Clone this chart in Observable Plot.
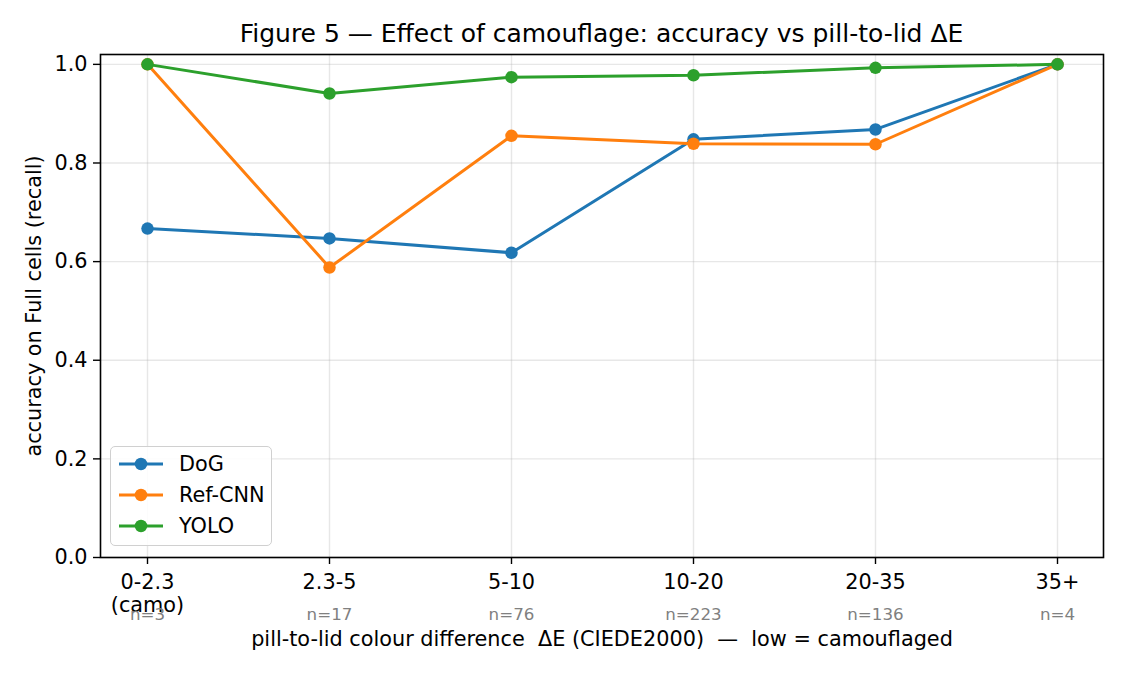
<!DOCTYPE html>
<html>
<head>
<meta charset="utf-8">
<script src="https://cdn.jsdelivr.net/npm/d3@7"></script>
<script src="https://cdn.jsdelivr.net/npm/@observablehq/plot@0.6"></script>
<style>
  body { margin: 0; background: #fff; font-family: "DejaVu Sans", sans-serif; }
  #wrap { position: relative; width: 1125px; height: 675px; overflow: hidden; }
  #title { height: 50px; box-sizing: border-box; padding: 19px 22px 0 100px; font-size: 25px; line-height: 30px; text-align: center; color: #000; white-space: nowrap; }
  #legend { position: absolute; left: 110px; top: 446px; width: 162px; height: 100px; box-sizing: border-box;
    border: 1px solid #d0d0d0; border-radius: 5px; background: rgba(255,255,255,0.85); }
  .lg-row { position: absolute; left: 0; height: 20px; display: flex; align-items: center; font-size: 20.8px; color: #000; }
  .lg-row svg { margin-left: 8px; margin-right: 16px; }
</style>
</head>
<body>
<div id="wrap">
  <div id="title">Figure 5 — Effect of camouflage: accuracy vs pill-to-lid ΔE</div>
  <div id="chart"></div>
  <div id="legend"></div>
</div>
<script>
// ---- data ----
const bins = ["0-2.3", "2.3-5", "5-10", "10-20", "20-35", "35+"];
const tickLabels = ["0-2.3\n(camo)", "2.3-5", "5-10", "10-20", "20-35", "35+"];
const nCounts = [3, 17, 76, 223, 136, 4];
const seriesNames = ["DoG", "Ref-CNN", "YOLO"];
const dogAcc = [0.667, 0.647, 0.618, 0.848, 0.868, 1.0];
const refCnnAcc = [1.0, 0.588, 0.855, 0.839, 0.838, 1.0];
const yoloAcc = [1.0, 0.941, 0.974, 0.978, 0.993, 1.0];
const seriesColors = ["#1f77b4", "#ff7f0e", "#2ca02c"];
const yTicks = [0, 0.2, 0.4, 0.6, 0.8, 1.0];
const xTitle = "pill-to-lid colour difference  ΔE (CIEDE2000)  —  low = camouflaged";
const yTitle = "accuracy on Full cells (recall)";

const seriesValues = [dogAcc, refCnnAcc, yoloAcc];
const series = seriesNames.map((name, i) => ({
  name, color: seriesColors[i],
  rows: bins.map((b, j) => ({bin: b, value: seriesValues[i][j]}))
}));

const seriesMarks = series.flatMap(s => [
  Plot.line(s.rows, {x: "bin", y: "value", stroke: s.color, strokeWidth: 3}),
  Plot.dot(s.rows, {x: "bin", y: "value", fill: s.color, r: 6.25, stroke: "none"})
]);

const chart = Plot.plot({
  width: 1125,
  height: 625,
  marginTop: 4,
  marginBottom: 118,
  marginLeft: 100,
  marginRight: 22,
  style: {fontFamily: "DejaVu Sans, sans-serif", fontSize: "20.8px", color: "#000", background: "#fff", overflow: "visible"},
  x: {type: "point", domain: bins, padding: 0.25},
  y: {domain: [0, 1.02]},
  marks: [
    Plot.gridX(bins, {stroke: "#b0b0b0", strokeOpacity: 0.3, strokeWidth: 1.4}),
    Plot.gridY(yTicks, {stroke: "#b0b0b0", strokeOpacity: 0.3, strokeWidth: 1.4}),
    Plot.axisX(bins, {tickSize: 7, tickPadding: 8, label: null, strokeWidth: 1.4,
      tickFormat: d => tickLabels[bins.indexOf(d)], lineHeight: 1.1}),
    Plot.axisY(yTicks, {tickSize: 7, tickPadding: 6, label: null, strokeWidth: 1.4, tickFormat: d3.format(".1f")}),
    Plot.text(bins, {x: d => d, frameAnchor: "bottom", dy: 57,
      text: d => "n=" + nCounts[bins.indexOf(d)], fill: "#808080", fontSize: 16.7, lineAnchor: "middle"}),
    Plot.text([xTitle], {frameAnchor: "bottom", dy: 82, lineAnchor: "middle", fontSize: 20.8}),
    Plot.text([yTitle], {frameAnchor: "left", dx: -66, rotate: -90, lineAnchor: "middle", textAnchor: "middle", fontSize: 20.8}),
    ...seriesMarks,
    Plot.frame({stroke: "#000", strokeWidth: 1.6})
  ]
});
document.getElementById("chart").appendChild(chart);

// legend overlay
const legend = document.getElementById("legend");
series.forEach((s, i) => {
  const row = document.createElement("div");
  row.className = "lg-row";
  row.style.top = (7 + i * 31) + "px";
  row.innerHTML = `<svg width="44" height="20"><line x1="0" y1="10" x2="44" y2="10" stroke="${s.color}" stroke-width="3"/><circle cx="22" cy="10" r="6.25" fill="${s.color}"/></svg><span>${s.name}</span>`;
  legend.appendChild(row);
});
</script>
</body>
</html>
